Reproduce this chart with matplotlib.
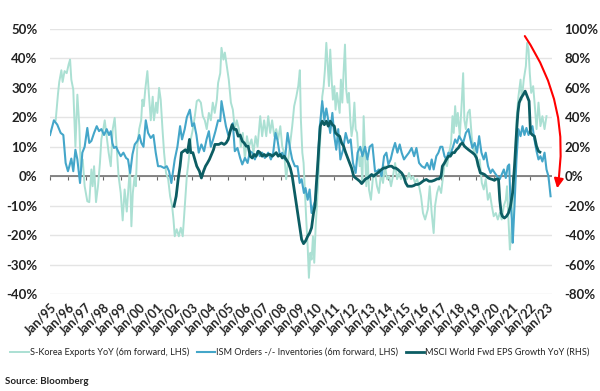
import numpy as np
from matplotlib import pyplot as plt

plt.rcParams['font.family'] = ['Lato', 'DejaVu Sans']

# S-Korea exports YoY, 6m forward (LHS, %)
korea = [
    (1995.32, 19), (1995.45, 28), (1995.52, 32), (1995.64, 36), (1995.71, 32), (1995.82, 35.7),
    (1995.94, 35), (1996.05, 38), (1996.13, 39.6), (1996.20, 32.8), (1996.31, 29.4), (1996.43, 10),
    (1996.54, 27.7), (1996.65, 17), (1996.73, 2.3), (1996.84, 5.7), (1996.95, -3.4), (1997.10, -8.5),
    (1997.21, -8.8), (1997.33, 2.3), (1997.40, -3.4), (1997.48, 3.4), (1997.59, -8.8), (1997.70, -3.4),
    (1997.81, 4.5), (1997.89, 12.5), (1998.00, 16), (1998.08, 19), (1998.19, 13.6), (1998.30, 8),
    (1998.42, 3.4), (1998.53, 16), (1998.64, 19.8), (1998.75, 10), (1998.86, 0), (1998.98, -5.7),
    (1999.09, -15), (1999.20, -4.5), (1999.32, -12), (1999.43, -2.3), (1999.50, 3.4), (1999.58, -17),
    (1999.66, -5.7), (1999.76, 0), (1999.83, -3.4), (1999.91, 10), (2000.02, 16), (2000.13, 19),
    (2000.20, 26), (2000.28, 23.8), (2000.36, 29.4), (2000.48, 35.7), (2000.56, 28.3), (2000.67, 19),
    (2000.78, 27), (2000.85, 19), (2000.97, 25), (2001.04, 21.5), (2001.14, 30), (2001.23, 26),
    (2001.33, 16), (2001.42, 8), (2001.53, 1.1), (2001.65, -1), (2001.76, -6.8), (2001.87, -10),
    (2001.95, -14.7), (2002.02, -20.4), (2002.13, -18), (2002.25, -20.4), (2002.36, -17.5), (2002.47, -20.4),
    (2002.59, -10), (2002.70, 0), (2002.81, 5.7), (2002.92, 12.5), (2003.04, 16), (2003.15, 20.4),
    (2003.26, 25.5), (2003.37, 26), (2003.49, 25), (2003.60, 20.4), (2003.71, 19), (2003.82, 16),
    (2003.94, 21.5), (2004.05, 19), (2004.16, 25), (2004.27, 21.5), (2004.39, 26), (2004.46, 31.7),
    (2004.58, 35), (2004.65, 43.6), (2004.76, 39.6), (2004.84, 42), (2004.95, 37.4), (2005.06, 32.8),
    (2005.18, 25), (2005.29, 22.6), (2005.40, 16), (2005.51, 19), (2005.63, 16), (2005.74, 10),
    (2005.85, 14.7), (2005.97, 5.7), (2006.08, 13.6), (2006.19, 10), (2006.34, 12.5), (2006.45, 8),
    (2006.57, 13.6), (2006.68, 10), (2006.83, 20.4), (2006.94, 13.6), (2007.05, 19), (2007.17, 13.6),
    (2007.28, 20.4), (2007.39, 14.7), (2007.50, 19), (2007.62, 13.6), (2007.73, 16), (2007.84, 12.5),
    (2007.96, 17), (2008.07, 10), (2008.18, 8), (2008.29, -1), (2008.41, 5.7), (2008.52, 11.3),
    (2008.63, 17), (2008.74, 23.8), (2008.86, 27), (2008.97, 30.6), (2009.06, 36), (2009.12, 19),
    (2009.20, 8), (2009.27, 4.5), (2009.35, -5.7), (2009.42, -14.7), (2009.50, -23.8), (2009.57, -34.5),
    (2009.65, -26), (2009.72, -28.3), (2009.80, -20.4), (2009.87, -29.4), (2009.95, -17), (2010.02, -10),
    (2010.10, -1), (2010.17, 8), (2010.25, 19), (2010.32, 27), (2010.40, 30.6), (2010.47, 36),
    (2010.55, 45.3), (2010.62, 38.5), (2010.70, 30.6), (2010.77, 43), (2010.85, 32.8), (2010.92, 26),
    (2011.00, 30.6), (2011.07, 22.6), (2011.15, 28.3), (2011.22, 25), (2011.30, 21.5), (2011.37, 32.8),
    (2011.45, 25), (2011.52, 35), (2011.60, 44.7), (2011.67, 29.4), (2011.75, 25), (2011.82, 28.3),
    (2011.90, 19), (2011.97, 13.6), (2012.05, 17), (2012.13, 25), (2012.20, 16), (2012.28, 14.7),
    (2012.35, 8), (2012.43, 3.4), (2012.50, 6.8), (2012.58, -2.3), (2012.65, 20.4), (2012.73, 8),
    (2012.80, -3.4), (2012.88, 5.7), (2012.95, -4.5), (2013.06, -8), (2013.18, 0), (2013.29, 1.1),
    (2013.40, -3.4), (2013.51, -5.7), (2013.63, 1.1), (2013.74, -2.3), (2013.85, 3.4), (2013.97, -1),
    (2014.08, 0), (2014.19, -3.4), (2014.30, 0), (2014.42, 4.5), (2014.53, -1), (2014.64, 1.1),
    (2014.75, -1), (2014.87, 0.6), (2014.98, -0.6), (2015.09, -1), (2015.20, 1.1), (2015.32, -1),
    (2015.43, 0), (2015.54, -2.3), (2015.66, -1), (2015.77, -3.4), (2015.88, -6.8), (2015.99, -12.5),
    (2016.11, -14.7), (2016.26, -11.3), (2016.37, -3.4), (2016.48, -12.5), (2016.59, -19.3), (2016.67, -10),
    (2016.78, -5.7), (2016.89, -3.4), (2017.01, -5.7), (2017.12, 0), (2017.23, 5.7), (2017.34, 3.4),
    (2017.46, 8), (2017.57, 11.3), (2017.65, 20.4), (2017.72, 14.7), (2017.80, 23.8), (2017.87, 17),
    (2017.95, 21.5), (2018.06, 13.6), (2018.17, 25), (2018.25, 35), (2018.32, 19), (2018.40, 16),
    (2018.51, 21.5), (2018.62, 22.6), (2018.73, 13.6), (2018.85, 8), (2018.96, 10), (2019.07, 3.4),
    (2019.18, 5.7), (2019.30, -2.3), (2019.41, -4.5), (2019.52, -1), (2019.64, -8), (2019.75, -5.7),
    (2019.86, -10), (2019.97, -13.6), (2020.09, -12.5), (2020.20, -14.7), (2020.31, -12.5), (2020.42, -14.7),
    (2020.54, -10), (2020.65, -8), (2020.72, -3.4), (2020.80, -14.7), (2020.88, -24.9), (2020.95, -20.4),
    (2021.03, -10), (2021.10, -1), (2021.18, 5.7), (2021.25, 19), (2021.36, 27), (2021.48, 32.8),
    (2021.55, 26), (2021.66, 32.8), (2021.78, 37.4), (2021.85, 45.3), (2021.93, 43), (2022.00, 35),
    (2022.08, 28.3), (2022.19, 30.6), (2022.30, 22.6), (2022.38, 16), (2022.49, 25), (2022.60, 17),
    (2022.71, 20.4), (2022.83, 16), (2022.94, 20.4),
]

# ISM new orders minus inventories, 6m forward (LHS)
ism = [
    (1995.00, 14), (1995.22, 19), (1995.41, 17.5), (1995.60, 14.7), (1995.75, 14), (1995.88, 4.5),
    (1996.01, 1.7), (1996.09, 3.4), (1996.20, 6), (1996.31, 1.7), (1996.43, 9), (1996.54, 5.7),
    (1996.69, -2.3), (1996.82, 8), (1996.95, 10), (1997.10, 16.4), (1997.21, 11.3), (1997.33, 12),
    (1997.48, 14.7), (1997.63, 17), (1997.76, 15.3), (1997.89, 16), (1998.04, 14), (1998.19, 16),
    (1998.32, 14), (1998.42, 15.3), (1998.51, 11.3), (1998.60, 9.6), (1998.72, 10), (1998.83, 8.5),
    (1998.98, 6.8), (1999.13, 8), (1999.28, 6.2), (1999.39, 5.7), (1999.51, 1.1), (1999.64, 7.4),
    (1999.77, 10.8), (1999.92, 12), (2000.03, 14), (2000.14, 11.3), (2000.26, 10), (2000.39, 19),
    (2000.52, 14.7), (2000.67, 13), (2000.82, 14), (2000.95, 8), (2001.08, 3.4), (2001.23, 3.4),
    (2001.42, 2.8), (2001.57, 3.4), (2001.70, 1.7), (2001.83, -2.3), (2002.02, 5.7), (2002.17, 10),
    (2002.32, 17), (2002.43, 12.5), (2002.58, 16), (2002.70, 20), (2002.87, 22.6), (2003.00, 17),
    (2003.11, 18), (2003.24, 14), (2003.37, 8), (2003.52, 10.8), (2003.67, 8.5), (2003.81, 12.5),
    (2003.94, 15.3), (2004.05, 10), (2004.18, 12.5), (2004.31, 15.3), (2004.46, 19), (2004.58, 18.7),
    (2004.65, 25.5), (2004.78, 21), (2004.90, 17), (2005.03, 14), (2005.14, 15.3), (2005.29, 18),
    (2005.40, 8.5), (2005.55, 9.6), (2005.70, 6.2), (2005.82, 4), (2005.97, 6.2), (2006.12, 4.5),
    (2006.25, 8.5), (2006.38, 8), (2006.53, 5.7), (2006.68, 8.5), (2006.81, 6.8), (2006.94, 8),
    (2007.09, 6.2), (2007.28, 8), (2007.43, 5.7), (2007.56, 8), (2007.69, 14.7), (2007.81, 12),
    (2007.94, 6.8), (2008.07, 8), (2008.22, 5.7), (2008.37, 14.7), (2008.52, 9), (2008.63, 5.7),
    (2008.78, 3.4), (2008.93, 3.4), (2009.05, -2.3), (2009.16, -1), (2009.29, -5.7), (2009.38, -4),
    (2009.50, -8), (2009.61, -4.5), (2009.72, -12.5), (2009.83, -10), (2009.95, -8), (2010.06, 2.3),
    (2010.17, 16), (2010.32, 25.5), (2010.44, 19), (2010.55, 23), (2010.66, 19), (2010.77, 14.7),
    (2010.89, 21.5), (2011.00, 13.6), (2011.11, 9), (2011.22, 16), (2011.34, 5.7), (2011.49, 9),
    (2011.64, 14.7), (2011.79, 11.3), (2011.92, 12.5), (2012.05, 4.5), (2012.20, 1.1), (2012.31, 8),
    (2012.46, 10), (2012.58, 6.8), (2012.73, 10), (2012.86, 5.7), (2012.99, 10), (2013.14, 10.8),
    (2013.29, 1.7), (2013.40, 1.7), (2013.51, 2.3), (2013.66, 0), (2013.80, 6.8), (2013.93, 8),
    (2014.04, 4), (2014.17, 5.7), (2014.30, 9), (2014.42, 11.3), (2014.55, 8), (2014.68, 10.8),
    (2014.79, 8), (2014.92, 5.7), (2015.05, 6.8), (2015.20, 8), (2015.35, 9.6), (2015.49, 6.8),
    (2015.62, 9.6), (2015.77, 4.5), (2015.92, 3.4), (2016.09, 2.8), (2016.22, 4.5), (2016.37, 2.3),
    (2016.48, 5.7), (2016.59, 2.3), (2016.74, 6.8), (2016.86, 8), (2016.97, 10), (2017.08, 10),
    (2017.20, 6.8), (2017.31, 5.7), (2017.42, 8), (2017.53, 7.4), (2017.68, 10), (2017.80, 12.5),
    (2017.91, 11.3), (2018.02, 13.6), (2018.13, 12.5), (2018.25, 11.3), (2018.40, 14.7), (2018.55, 16),
    (2018.66, 12.5), (2018.77, 9.6), (2018.90, 11.3), (2019.03, 8), (2019.15, 13.6), (2019.28, 8),
    (2019.41, 5.7), (2019.52, 8), (2019.65, 3.4), (2019.79, 1.1), (2019.90, 2.3), (2020.03, 1.1),
    (2020.16, 0), (2020.31, -1), (2020.42, 0.6), (2020.54, 2.3), (2020.65, -0.6), (2020.76, 3.4),
    (2020.84, 4), (2020.91, -8), (2020.99, -14.7), (2021.04, -22.6), (2021.14, -10), (2021.25, 5.7),
    (2021.36, 16), (2021.48, 13.6), (2021.59, 17), (2021.70, 14), (2021.81, 16.4), (2021.93, 14),
    (2022.04, 16), (2022.15, 17), (2022.26, 12.5), (2022.38, 8.5), (2022.49, 5.7), (2022.60, 6.8),
    (2022.71, 5), (2022.83, 8), (2022.94, 2.3), (2023.05, 0), (2023.17, -6.8),
]

# MSCI World forward EPS growth YoY (RHS, %)
msci = [
    (2001.98, -20.4), (2002.10, -13.6), (2002.21, -2.2), (2002.32, 6.8), (2002.40, 16), (2002.51, 17),
    (2002.62, 18), (2002.74, 16), (2002.85, 25), (2002.92, 16), (2003.04, 16), (2003.15, 11.4),
    (2003.26, 6.8), (2003.41, 3.4), (2003.52, -1.2), (2003.64, 3.4), (2003.75, 6.8), (2003.86, 9),
    (2003.97, 11.4), (2004.09, 14.8), (2004.20, 18), (2004.28, 21.6), (2004.39, 21.6), (2004.50, 21.6),
    (2004.65, 22.6), (2004.80, 21.6), (2004.91, 22.6), (2005.03, 25), (2005.14, 30.6), (2005.25, 35),
    (2005.36, 31.8), (2005.48, 31.8), (2005.59, 27.2), (2005.70, 28), (2005.82, 23.8), (2005.93, 22.6),
    (2006.04, 20.4), (2006.15, 20.4), (2006.27, 13.6), (2006.38, 12.4), (2006.49, 14.8), (2006.60, 13.6),
    (2006.72, 17), (2006.83, 16), (2006.94, 13.6), (2007.05, 14.8), (2007.17, 13.6), (2007.28, 14.8),
    (2007.39, 14.8), (2007.51, 13.6), (2007.62, 14.8), (2007.73, 16), (2007.84, 13.6), (2007.96, 14.8),
    (2008.07, 12.4), (2008.18, 13.6), (2008.29, 11.4), (2008.41, 9), (2008.52, 5.6), (2008.63, 0),
    (2008.74, -9), (2008.86, -19.2), (2008.93, -25), (2009.05, -34), (2009.16, -43), (2009.27, -45.8),
    (2009.38, -44), (2009.50, -40.8), (2009.61, -38.6), (2009.72, -35), (2009.83, -25), (2009.91, -20.4),
    (2009.98, -6.8), (2010.06, 6.8), (2010.13, 20.4), (2010.21, 34), (2010.32, 37.4), (2010.44, 35),
    (2010.55, 37.4), (2010.66, 34), (2010.77, 37.4), (2010.89, 35), (2011.00, 34), (2011.07, 29.4),
    (2011.19, 28), (2011.30, 27.2), (2011.41, 22.6), (2011.52, 20.4), (2011.64, 16), (2011.75, 12.4),
    (2011.86, 9), (2011.97, 5.6), (2012.09, 0), (2012.20, -1.2), (2012.31, -2.2), (2012.43, -3.4),
    (2012.54, -5), (2012.65, -3.4), (2012.76, -1.8), (2012.88, -1.2), (2012.99, 0), (2013.10, 1.2),
    (2013.21, 0), (2013.33, 1.2), (2013.44, 2.2), (2013.55, 3.4), (2013.66, 4.6), (2013.78, 5.6),
    (2013.89, 5.6), (2014.00, 6.4), (2014.12, 6.8), (2014.23, 6.8), (2014.34, 5.6), (2014.45, 5.6),
    (2014.57, 4.6), (2014.68, 3.4), (2014.79, 2.2), (2014.90, 0), (2015.02, -4.6), (2015.13, -6.8),
    (2015.24, -6.8), (2015.36, -6.8), (2015.47, -6.4), (2015.58, -5.6), (2015.69, -5.6), (2015.81, -5),
    (2015.92, -4), (2016.03, -3), (2016.18, -2.2), (2016.33, -3.4), (2016.48, -3.4), (2016.63, -2.8),
    (2016.78, -1.8), (2016.89, -1.8), (2017.01, 0), (2017.08, 6.8), (2017.20, 9), (2017.31, 11.4),
    (2017.42, 13.6), (2017.53, 13.6), (2017.65, 16), (2017.76, 16), (2017.87, 18), (2017.98, 19.2),
    (2018.10, 21.6), (2018.21, 22.6), (2018.32, 20.4), (2018.43, 19.2), (2018.55, 18), (2018.66, 17),
    (2018.77, 16), (2018.89, 14.8), (2019.00, 12.4), (2019.11, 6.8), (2019.22, 2.2), (2019.34, 1.8),
    (2019.45, 1.2), (2019.56, 0), (2019.67, -1.2), (2019.79, -1.8), (2019.90, -2.2), (2020.01, -2.8),
    (2020.12, -1.8), (2020.24, -2.2), (2020.31, -16), (2020.39, -25), (2020.46, -27.2), (2020.57, -28.4),
    (2020.69, -27.2), (2020.80, -25), (2020.91, -20.4), (2021.03, -11.4), (2021.14, 6.8), (2021.25, 29.4),
    (2021.33, 43), (2021.40, 49.8), (2021.51, 53.2), (2021.63, 55.4), (2021.74, 57.8), (2021.85, 54.4),
    (2021.96, 51), (2022.04, 29.4), (2022.15, 28), (2022.26, 27.2), (2022.38, 20.4), (2022.49, 17),
    (2022.57, 16.4),
]

years = list(range(1995, 2024))
year_labels = ['Jan/%02d' % (y % 100) for y in years]
lhs_ticks = list(range(-40, 51, 10))
rhs_ticks = list(range(-80, 101, 20))

c_korea = '#abe0d3'
c_ism = '#44a6c9'
c_msci = '#0c5d63'
txt = '#222222'

fig = plt.figure(figsize=(6, 3.91), dpi=100)
ax = fig.add_axes([50 / 600, 1 - 294 / 391, 502 / 600, 265 / 391])
ax2 = ax.twinx()

kt, kv = zip(*korea)
it, iv = zip(*ism)
mt, mv = zip(*msci)
l1, = ax.plot(kt, kv, color=c_korea, lw=1.4, zorder=2)
l2, = ax.plot(it, iv, color=c_ism, lw=1.5, zorder=3)
l3, = ax2.plot(mt, mv, color=c_msci, lw=2.0, zorder=4)

ax.set_xlim(1995, 2023.25)
ax.set_ylim(-40, 50)
ax2.set_ylim(-80, 100)

for a in (ax, ax2):
    for s in a.spines.values():
        s.set_visible(False)

ax.set_yticks(lhs_ticks)
ax.set_yticklabels(['%d%%' % v for v in lhs_ticks])
ax2.set_yticks(rhs_ticks)
ax2.set_yticklabels(['%d%%' % v for v in rhs_ticks])
ax.yaxis.grid(True, color='#e4e4e4', lw=1.0, zorder=0)
ax.set_axisbelow(True)
ax.tick_params(axis='y', length=0, pad=9, labelsize=9.5, labelcolor=txt)
ax2.tick_params(axis='y', length=0, pad=9, labelsize=9.5, labelcolor=txt)
for lab in ax.get_yticklabels() + ax2.get_yticklabels():
    lab.set_fontweight('bold')

ax.set_xticks(years)
ax.set_xticklabels(year_labels, rotation=45, ha='right', rotation_mode='anchor')
ax.tick_params(axis='x', length=0, pad=5, labelsize=9, labelcolor=txt)
for lab in ax.get_xticklabels():
    lab.set_fontweight('bold')

# zero line with the year ticks on it
ax.axhline(0, color='#666666', lw=1.1, zorder=1)
zero = ax.secondary_xaxis(40 / 90)
zero.set_xticks(years)
zero.set_xticklabels([])
zero.tick_params(axis='x', direction='out', length=3, width=0.8, color='#666666')
zero.spines['bottom'].set_visible(False)
zero.spines['top'].set_visible(False)

ax.annotate('', xy=(2023.54, -4.1), xytext=(2021.72, 47.6), annotation_clip=False,
            arrowprops=dict(arrowstyle='-|>', color='red', lw=1.5, mutation_scale=14,
                            shrinkA=0, shrinkB=0, connectionstyle='arc3,rad=-0.2'))

fig.legend([l1, l2, l3],
           ['S-Korea Exports YoY (6m forward, LHS)',
            'ISM Orders -/- Inventories (6m forward, LHS)',
            'MSCI World Fwd EPS Growth YoY (RHS)'],
           loc='center', bbox_to_anchor=(0.5, 1 - 352 / 391), ncol=3, frameon=False,
           fontsize=6.6, handlelength=2.0, handletextpad=0.15, columnspacing=0.8,
           labelcolor=txt)

fig.text(5 / 600, 1 - 381 / 391, 'Source: Bloomberg', fontsize=7, color=txt,
         fontweight='bold', va='center')

fig.savefig('out.png', dpi=100)
